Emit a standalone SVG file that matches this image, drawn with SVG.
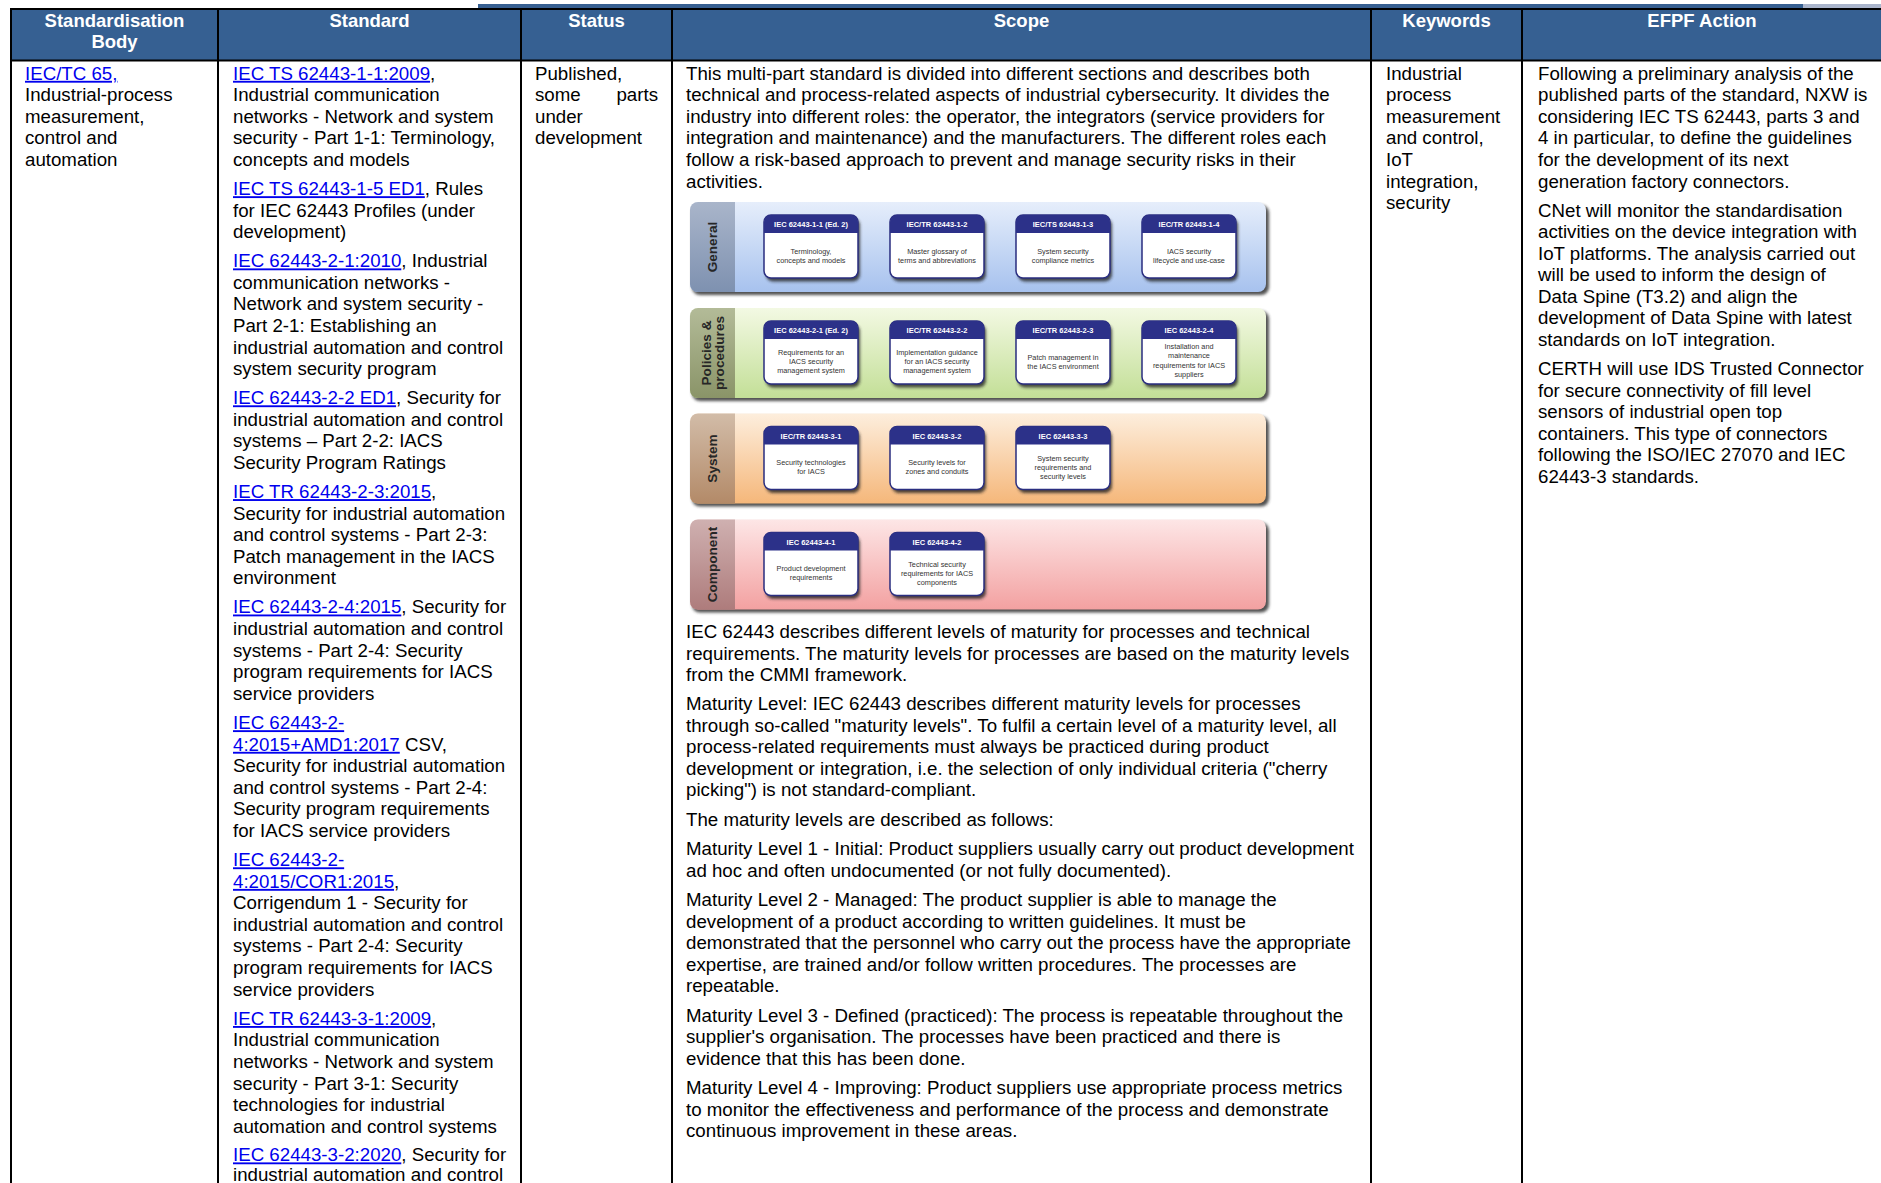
<svg xmlns="http://www.w3.org/2000/svg" width="1881" height="1183" viewBox="0 0 1881 1183">
<style>
text{font-family:"Liberation Sans",Arial,sans-serif;font-size:18.7px;fill:#000}
.h{font-weight:bold;fill:#fff;text-anchor:middle;font-size:18.5px}
.a{fill:#0000ee;text-decoration:underline}
.grid line{stroke:#000;stroke-width:2}
.lab{font-size:13.6px;font-weight:bold;fill:#262626;text-anchor:middle}
.bh{font-size:7.5px;font-weight:bold;fill:#fff;text-anchor:middle}
.bb{font-size:7.3px;fill:#333;text-anchor:middle}
.bx{fill:#fff;stroke:#2a2e80;stroke-width:1.5}
.bxh{fill:#2c3189}
.bsh{fill:#222;opacity:.8}
.bandsh{fill:#333;opacity:.85}
</style>
<defs>
<filter id="blur" x="-10%" y="-10%" width="125%" height="130%"><feGaussianBlur stdDeviation="1.6"/></filter>
<linearGradient id="gG" x1="0" y1="0" x2="0" y2="1"><stop offset="0" stop-color="#e6eefb"/><stop offset="1" stop-color="#a7c2ee"/></linearGradient>
<linearGradient id="sG" x1="0" y1="0" x2="0" y2="1"><stop offset="0" stop-color="#a9b5ca"/><stop offset="1" stop-color="#7e91b0"/></linearGradient>
<linearGradient id="gP" x1="0" y1="0" x2="0" y2="1"><stop offset="0" stop-color="#f3f9e3"/><stop offset="1" stop-color="#c3df97"/></linearGradient>
<linearGradient id="sP" x1="0" y1="0" x2="0" y2="1"><stop offset="0" stop-color="#b3bb98"/><stop offset="1" stop-color="#8a9468"/></linearGradient>
<linearGradient id="gS" x1="0" y1="0" x2="0" y2="1"><stop offset="0" stop-color="#fdeedd"/><stop offset="1" stop-color="#f5b77a"/></linearGradient>
<linearGradient id="sS" x1="0" y1="0" x2="0" y2="1"><stop offset="0" stop-color="#d2bca8"/><stop offset="1" stop-color="#b38a68"/></linearGradient>
<linearGradient id="gC" x1="0" y1="0" x2="0" y2="1"><stop offset="0" stop-color="#fde6e6"/><stop offset="1" stop-color="#f3a1a1"/></linearGradient>
<linearGradient id="sC" x1="0" y1="0" x2="0" y2="1"><stop offset="0" stop-color="#cfb0b0"/><stop offset="1" stop-color="#ae7c7c"/></linearGradient>
</defs>
<rect width="1881" height="1183" fill="#fff"/>
<rect x="478" y="4" width="1325" height="4" fill="#365f91"/>
<rect x="1803" y="4" width="78" height="4" fill="#aab5cc"/>

<g id="header">
<rect x="11" y="9" width="1870" height="51" fill="#366092"/>
<text class="h" x="114.5" y="27">Standardisation</text>
<text class="h" x="114.5" y="47.5">Body</text>
<text class="h" x="369.5" y="27">Standard</text>
<text class="h" x="596.5" y="27">Status</text>
<text class="h" x="1021.5" y="27">Scope</text>
<text class="h" x="1446.5" y="27">Keywords</text>
<text class="h" x="1702" y="27">EFPF Action</text>
</g>

<g transform="translate(0,1.8)">
<g id="cell-body">
<text x="25" y="78"><tspan class="a">IEC/TC 65,</tspan></text>
<text x="25" y="99.6">Industrial-process</text>
<text x="25" y="121.1">measurement,</text>
<text x="25" y="142.7">control and</text>
<text x="25" y="164.2">automation</text>
</g>

<g id="cell-standard">
<text x="233" y="78"><tspan class="a">IEC TS 62443-1-1:2009</tspan>,</text>
<text x="233" y="99.6">Industrial communication</text>
<text x="233" y="121.1">networks - Network and system</text>
<text x="233" y="142.7">security - Part 1-1: Terminology,</text>
<text x="233" y="164.2">concepts and models</text>
<text x="233" y="193.4"><tspan class="a">IEC TS 62443-1-5 ED1</tspan>, Rules</text>
<text x="233" y="214.9">for IEC 62443 Profiles (under</text>
<text x="233" y="236.5">development)</text>
<text x="233" y="265.6"><tspan class="a">IEC 62443-2-1:2010</tspan>, Industrial</text>
<text x="233" y="287.2">communication networks -</text>
<text x="233" y="308.7">Network and system security -</text>
<text x="233" y="330.3">Part 2-1: Establishing an</text>
<text x="233" y="351.8">industrial automation and control</text>
<text x="233" y="373.4">system security program</text>
<text x="233" y="402.5"><tspan class="a">IEC 62443-2-2 ED1</tspan>, Security for</text>
<text x="233" y="424.1">industrial automation and control</text>
<text x="233" y="445.6">systems – Part 2-2: IACS</text>
<text x="233" y="467.2">Security Program Ratings</text>
<text x="233" y="496.3"><tspan class="a">IEC TR 62443-2-3:2015</tspan>,</text>
<text x="233" y="517.9">Security for industrial automation</text>
<text x="233" y="539.4">and control systems - Part 2-3:</text>
<text x="233" y="561">Patch management in the IACS</text>
<text x="233" y="582.5">environment</text>
<text x="233" y="611.7"><tspan class="a">IEC 62443-2-4:2015</tspan>, Security for</text>
<text x="233" y="633.2">industrial automation and control</text>
<text x="233" y="654.8">systems - Part 2-4: Security</text>
<text x="233" y="676.3">program requirements for IACS</text>
<text x="233" y="697.9">service providers</text>
<text x="233" y="727.4"><tspan class="a">IEC 62443-2-</tspan></text>
<text x="233" y="749"><tspan class="a">4:2015+AMD1:2017</tspan> CSV,</text>
<text x="233" y="770.5">Security for industrial automation</text>
<text x="233" y="792.1">and control systems - Part 2-4:</text>
<text x="233" y="813.6">Security program requirements</text>
<text x="233" y="835.2">for IACS service providers</text>
<text x="233" y="864.5"><tspan class="a">IEC 62443-2-</tspan></text>
<text x="233" y="886.1"><tspan class="a">4:2015/COR1:2015</tspan>,</text>
<text x="233" y="907.6">Corrigendum 1 - Security for</text>
<text x="233" y="929.2">industrial automation and control</text>
<text x="233" y="950.7">systems - Part 2-4: Security</text>
<text x="233" y="972.3">program requirements for IACS</text>
<text x="233" y="993.8">service providers</text>
<text x="233" y="1023.2"><tspan class="a">IEC TR 62443-3-1:2009</tspan>,</text>
<text x="233" y="1044.7">Industrial communication</text>
<text x="233" y="1066.3">networks - Network and system</text>
<text x="233" y="1087.8">security - Part 3-1: Security</text>
<text x="233" y="1109.4">technologies for industrial</text>
<text x="233" y="1130.9">automation and control systems</text>
<text x="233" y="1159.6"><tspan class="a">IEC 62443-3-2:2020</tspan>, Security for</text>
<text x="233" y="1179.4">industrial automation and control</text>
</g>

<g id="cell-status">
<text x="535" y="78">Published,</text>
<text x="535" y="99.6">some</text>
<text x="658" y="99.6" text-anchor="end">parts</text>
<text x="535" y="121.1">under</text>
<text x="535" y="142.7">development</text>
</g>

<g id="cell-scope">
<text x="686" y="78">This multi-part standard is divided into different sections and describes both</text>
<text x="686" y="99.6">technical and process-related aspects of industrial cybersecurity. It divides the</text>
<text x="686" y="121.1">industry into different roles: the operator, the integrators (service providers for</text>
<text x="686" y="142.7">integration and maintenance) and the manufacturers. The different roles each</text>
<text x="686" y="164.2">follow a risk-based approach to prevent and manage security risks in their</text>
<text x="686" y="185.8">activities.</text>
<text x="686" y="636.2">IEC 62443 describes different levels of maturity for processes and technical</text>
<text x="686" y="657.8">requirements. The maturity levels for processes are based on the maturity levels</text>
<text x="686" y="679.3">from the CMMI framework.</text>
<text x="686" y="708.5">Maturity Level: IEC 62443 describes different maturity levels for processes</text>
<text x="686" y="730">through so-called "maturity levels". To fulfil a certain level of a maturity level, all</text>
<text x="686" y="751.6">process-related requirements must always be practiced during product</text>
<text x="686" y="773.1">development or integration, i.e. the selection of only individual criteria ("cherry</text>
<text x="686" y="794.7">picking") is not standard-compliant.</text>
<text x="686" y="824">The maturity levels are described as follows:</text>
<text x="686" y="853.4">Maturity Level 1 - Initial: Product suppliers usually carry out product development</text>
<text x="686" y="874.9">ad hoc and often undocumented (or not fully documented).</text>
<text x="686" y="904.4">Maturity Level 2 - Managed: The product supplier is able to manage the</text>
<text x="686" y="925.9">development of a product according to written guidelines. It must be</text>
<text x="686" y="947.5">demonstrated that the personnel who carry out the process have the appropriate</text>
<text x="686" y="969">expertise, are trained and/or follow written procedures. The processes are</text>
<text x="686" y="990.6">repeatable.</text>
<text x="686" y="1020">Maturity Level 3 - Defined (practiced): The process is repeatable throughout the</text>
<text x="686" y="1041.6">supplier's organisation. The processes have been practiced and there is</text>
<text x="686" y="1063.1">evidence that this has been done.</text>
<text x="686" y="1092.5">Maturity Level 4 - Improving: Product suppliers use appropriate process metrics</text>
<text x="686" y="1114">to monitor the effectiveness and performance of the process and demonstrate</text>
<text x="686" y="1135.6">continuous improvement in these areas.</text>
</g>

<g id="cell-keywords">
<text x="1386" y="78">Industrial</text>
<text x="1386" y="99.6">process</text>
<text x="1386" y="121.1">measurement</text>
<text x="1386" y="142.7">and control,</text>
<text x="1386" y="164.2">IoT</text>
<text x="1386" y="185.8">integration,</text>
<text x="1386" y="207.3">security</text>
</g>

<g id="cell-efpf">
<text x="1538" y="78">Following a preliminary analysis of the</text>
<text x="1538" y="99.6">published parts of the standard, NXW is</text>
<text x="1538" y="121.1">considering IEC TS 62443, parts 3 and</text>
<text x="1538" y="142.7">4 in particular, to define the guidelines</text>
<text x="1538" y="164.2">for the development of its next</text>
<text x="1538" y="185.8">generation factory connectors.</text>
<text x="1538" y="214.9">CNet will monitor the standardisation</text>
<text x="1538" y="236.5">activities on the device integration with</text>
<text x="1538" y="258">IoT platforms. The analysis carried out</text>
<text x="1538" y="279.6">will be used to inform the design of</text>
<text x="1538" y="301.1">Data Spine (T3.2) and align the</text>
<text x="1538" y="322.7">development of Data Spine with latest</text>
<text x="1538" y="344.2">standards on IoT integration.</text>
<text x="1538" y="373.4">CERTH will use IDS Trusted Connector</text>
<text x="1538" y="394.9">for secure connectivity of fill level</text>
<text x="1538" y="416.5">sensors of industrial open top</text>
<text x="1538" y="438">containers. This type of connectors</text>
<text x="1538" y="459.6">following the ISO/IEC 27070 and IEC</text>
<text x="1538" y="481.1">62443-3 standards.</text>
</g>
</g>

<g id="figure">
<g id="band-general">
<rect class="bandsh" x="692" y="205" width="577" height="90" rx="8" filter="url(#blur)"/>
<rect x="690" y="202" width="576" height="90" rx="8" fill="url(#gG)"/>
<path d="M735,202H698A8,8 0 0 0 690,210V284A8,8 0 0 0 698,292H735Z" fill="url(#sG)"/>
<text class="lab" transform="translate(712,247) rotate(-90)" y="5">General</text>
</g>
<g id="band-policies">
<rect class="bandsh" x="692" y="311" width="577" height="90" rx="8" filter="url(#blur)"/>
<rect x="690" y="308" width="576" height="90" rx="8" fill="url(#gP)"/>
<path d="M735,308H698A8,8 0 0 0 690,316V390A8,8 0 0 0 698,398H735Z" fill="url(#sP)"/>
<text class="lab" transform="translate(712,353) rotate(-90)" y="-1">Policies &amp;</text>
<text class="lab" transform="translate(712,353) rotate(-90)" y="11.5">procedures</text>
</g>
<g id="band-system">
<rect class="bandsh" x="692" y="416.5" width="577" height="90" rx="8" filter="url(#blur)"/>
<rect x="690" y="413.5" width="576" height="90" rx="8" fill="url(#gS)"/>
<path d="M735,413.5H698A8,8 0 0 0 690,421.5V495.5A8,8 0 0 0 698,503.5H735Z" fill="url(#sS)"/>
<text class="lab" transform="translate(712,458.5) rotate(-90)" y="5">System</text>
</g>
<g id="band-component">
<rect class="bandsh" x="692" y="522.5" width="577" height="90" rx="8" filter="url(#blur)"/>
<rect x="690" y="519.5" width="576" height="90" rx="8" fill="url(#gC)"/>
<path d="M735,519.5H698A8,8 0 0 0 690,527.5V601.5A8,8 0 0 0 698,609.5H735Z" fill="url(#sC)"/>
<text class="lab" transform="translate(712,564.5) rotate(-90)" y="5">Component</text>
</g>

<g id="box-1-1"><rect class="bsh" x="766" y="218.5" width="94" height="63" rx="7" filter="url(#blur)"/><rect class="bx" x="764" y="215" width="94" height="63" rx="7"/><path class="bxh" d="M764,233V222A7,7 0 0 1 771,215H851A7,7 0 0 1 858,222V233Z"/><text class="bh" x="811" y="227.2">IEC 62443-1-1 (Ed. 2)</text><text class="bb" x="811" y="253.5">Terminology,</text><text class="bb" x="811" y="262.8">concepts and models</text></g>
<g id="box-1-2"><rect class="bsh" x="892" y="218.5" width="94" height="63" rx="7" filter="url(#blur)"/><rect class="bx" x="890" y="215" width="94" height="63" rx="7"/><path class="bxh" d="M890,233V222A7,7 0 0 1 897,215H977A7,7 0 0 1 984,222V233Z"/><text class="bh" x="937" y="227.2">IEC/TR 62443-1-2</text><text class="bb" x="937" y="253.5">Master glossary of</text><text class="bb" x="937" y="262.8">terms and abbreviations</text></g>
<g id="box-1-3"><rect class="bsh" x="1018" y="218.5" width="94" height="63" rx="7" filter="url(#blur)"/><rect class="bx" x="1016" y="215" width="94" height="63" rx="7"/><path class="bxh" d="M1016,233V222A7,7 0 0 1 1023,215H1103A7,7 0 0 1 1110,222V233Z"/><text class="bh" x="1063" y="227.2">IEC/TS 62443-1-3</text><text class="bb" x="1063" y="253.5">System security</text><text class="bb" x="1063" y="262.8">compliance metrics</text></g>
<g id="box-1-4"><rect class="bsh" x="1144" y="218.5" width="94" height="63" rx="7" filter="url(#blur)"/><rect class="bx" x="1142" y="215" width="94" height="63" rx="7"/><path class="bxh" d="M1142,233V222A7,7 0 0 1 1149,215H1229A7,7 0 0 1 1236,222V233Z"/><text class="bh" x="1189" y="227.2">IEC/TR 62443-1-4</text><text class="bb" x="1189" y="253.5">IACS security</text><text class="bb" x="1189" y="262.8">lifecycle and use-case</text></g>

<g id="box-2-1"><rect class="bsh" x="766" y="324.5" width="94" height="63" rx="7" filter="url(#blur)"/><rect class="bx" x="764" y="321" width="94" height="63" rx="7"/><path class="bxh" d="M764,339V328A7,7 0 0 1 771,321H851A7,7 0 0 1 858,328V339Z"/><text class="bh" x="811" y="333.2">IEC 62443-2-1 (Ed. 2)</text><text class="bb" x="811" y="355">Requirements for an</text><text class="bb" x="811" y="364.2">IACS security</text><text class="bb" x="811" y="373.4">management system</text></g>
<g id="box-2-2"><rect class="bsh" x="892" y="324.5" width="94" height="63" rx="7" filter="url(#blur)"/><rect class="bx" x="890" y="321" width="94" height="63" rx="7"/><path class="bxh" d="M890,339V328A7,7 0 0 1 897,321H977A7,7 0 0 1 984,328V339Z"/><text class="bh" x="937" y="333.2">IEC/TR 62443-2-2</text><text class="bb" x="937" y="355">Implementation guidance</text><text class="bb" x="937" y="364.2">for an IACS security</text><text class="bb" x="937" y="373.4">management system</text></g>
<g id="box-2-3"><rect class="bsh" x="1018" y="324.5" width="94" height="63" rx="7" filter="url(#blur)"/><rect class="bx" x="1016" y="321" width="94" height="63" rx="7"/><path class="bxh" d="M1016,339V328A7,7 0 0 1 1023,321H1103A7,7 0 0 1 1110,328V339Z"/><text class="bh" x="1063" y="333.2">IEC/TR 62443-2-3</text><text class="bb" x="1063" y="359.6">Patch management in</text><text class="bb" x="1063" y="368.8">the IACS environment</text></g>
<g id="box-2-4"><rect class="bsh" x="1144" y="324.5" width="94" height="63" rx="7" filter="url(#blur)"/><rect class="bx" x="1142" y="321" width="94" height="63" rx="7"/><path class="bxh" d="M1142,339V328A7,7 0 0 1 1149,321H1229A7,7 0 0 1 1236,328V339Z"/><text class="bh" x="1189" y="333.2">IEC 62443-2-4</text><text class="bb" x="1189" y="349.2">Installation and</text><text class="bb" x="1189" y="358.4">maintenance</text><text class="bb" x="1189" y="367.6">requirements for IACS</text><text class="bb" x="1189" y="376.8">suppliers</text></g>

<g id="box-3-1"><rect class="bsh" x="766" y="430" width="94" height="63" rx="7" filter="url(#blur)"/><rect class="bx" x="764" y="426.5" width="94" height="63" rx="7"/><path class="bxh" d="M764,444.5V433.5A7,7 0 0 1 771,426.5H851A7,7 0 0 1 858,433.5V444.5Z"/><text class="bh" x="811" y="438.7">IEC/TR 62443-3-1</text><text class="bb" x="811" y="465">Security technologies</text><text class="bb" x="811" y="474.3">for IACS</text></g>
<g id="box-3-2"><rect class="bsh" x="892" y="430" width="94" height="63" rx="7" filter="url(#blur)"/><rect class="bx" x="890" y="426.5" width="94" height="63" rx="7"/><path class="bxh" d="M890,444.5V433.5A7,7 0 0 1 897,426.5H977A7,7 0 0 1 984,433.5V444.5Z"/><text class="bh" x="937" y="438.7">IEC 62443-3-2</text><text class="bb" x="937" y="465">Security levels for</text><text class="bb" x="937" y="474.3">zones and conduits</text></g>
<g id="box-3-3"><rect class="bsh" x="1018" y="430" width="94" height="63" rx="7" filter="url(#blur)"/><rect class="bx" x="1016" y="426.5" width="94" height="63" rx="7"/><path class="bxh" d="M1016,444.5V433.5A7,7 0 0 1 1023,426.5H1103A7,7 0 0 1 1110,433.5V444.5Z"/><text class="bh" x="1063" y="438.7">IEC 62443-3-3</text><text class="bb" x="1063" y="460.5">System security</text><text class="bb" x="1063" y="469.7">requirements and</text><text class="bb" x="1063" y="478.9">security levels</text></g>

<g id="box-4-1"><rect class="bsh" x="766" y="536" width="94" height="63" rx="7" filter="url(#blur)"/><rect class="bx" x="764" y="532.5" width="94" height="63" rx="7"/><path class="bxh" d="M764,550.5V539.5A7,7 0 0 1 771,532.5H851A7,7 0 0 1 858,539.5V550.5Z"/><text class="bh" x="811" y="544.7">IEC 62443-4-1</text><text class="bb" x="811" y="571">Product development</text><text class="bb" x="811" y="580.3">requirements</text></g>
<g id="box-4-2"><rect class="bsh" x="892" y="536" width="94" height="63" rx="7" filter="url(#blur)"/><rect class="bx" x="890" y="532.5" width="94" height="63" rx="7"/><path class="bxh" d="M890,550.5V539.5A7,7 0 0 1 897,532.5H977A7,7 0 0 1 984,539.5V550.5Z"/><text class="bh" x="937" y="544.7">IEC 62443-4-2</text><text class="bb" x="937" y="566.5">Technical security</text><text class="bb" x="937" y="575.7">requirements for IACS</text><text class="bb" x="937" y="584.9">components</text></g>
</g>

<g class="grid" id="connectors">
<line x1="10" y1="9" x2="1881" y2="9"/>
<line x1="10" y1="60.5" x2="1881" y2="60.5"/>
<line x1="11" y1="8" x2="11" y2="1183"/>
<line x1="218" y1="8" x2="218" y2="1183"/>
<line x1="521" y1="8" x2="521" y2="1183"/>
<line x1="672" y1="8" x2="672" y2="1183"/>
<line x1="1371" y1="8" x2="1371" y2="1183"/>
<line x1="1522" y1="8" x2="1522" y2="1183"/>
</g>
</svg>
